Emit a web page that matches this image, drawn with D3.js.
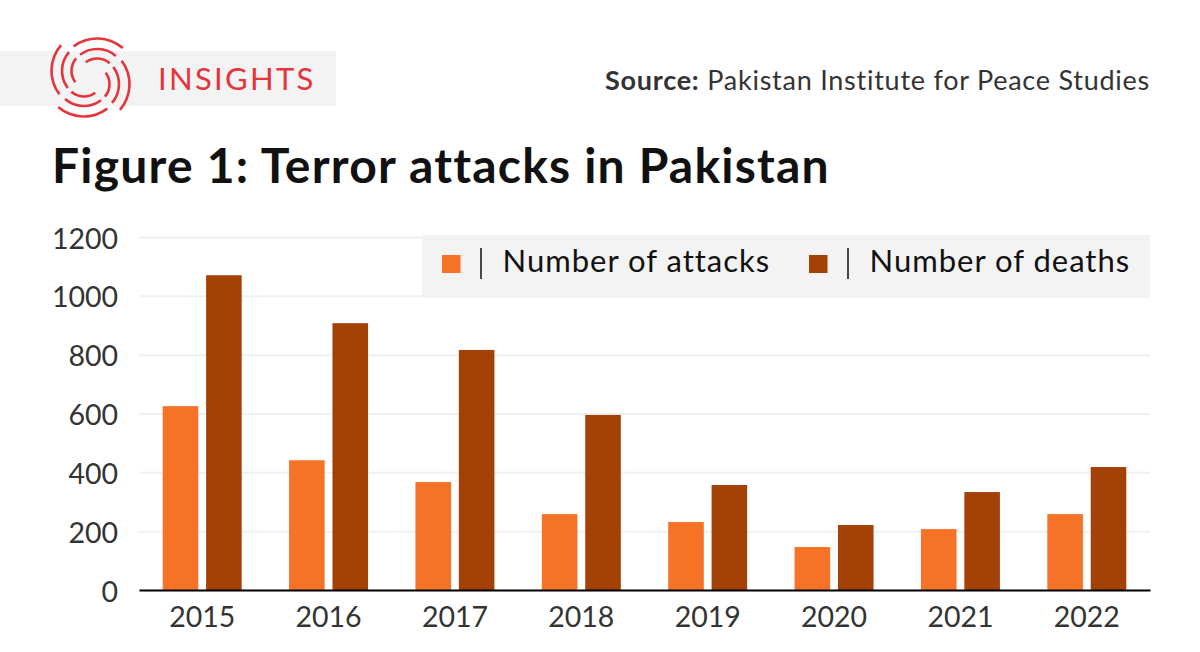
<!DOCTYPE html>
<html>
<head>
<meta charset="utf-8">
<script src="https://cdn.jsdelivr.net/npm/d3@7"></script>
<style>
  html, body { margin: 0; padding: 0; background: #fff; }
  svg { display: block; }
  text { font-family: Lato, "Open Sans", sans-serif; }
</style>
</head>
<body>
<div id="chart"></div>
<script>
var years = ["2015", "2016", "2017", "2018", "2019", "2020", "2021", "2022"];
var attacks = [625, 441, 367, 258, 231, 146, 207, 258];
var deaths = [1070, 907, 816, 595, 357, 221, 333, 418];
var seriesNames = ["Number of attacks", "Number of deaths"];
var seriesColors = ["#f57226", "#a44106"];
var yTicks = [0, 200, 400, 600, 800, 1000, 1200];

var w = 1200;
var h = 652;
var svg = d3.select("#chart").append("svg").attr("width", w).attr("height", h);

// header band and logo
svg.append("rect").attr("x", 0).attr("y", 51).attr("width", 336).attr("height", 55).attr("fill", "#f3f3f3");

var logoRed = "#e5343b";
var logo = svg.append("g").attr("transform", "translate(90.5,77.5)");
var rad = Math.PI / 180;
[0, 90, 180, 270].forEach(function (turn) {
	[39, 28.5, 19].forEach(function (r) {
		logo.append("path")
			.attr("d", d3.arc()({
				innerRadius: r - 1.3,
				outerRadius: r + 1.3,
				startAngle: (turn - 37) * rad,
				endAngle: (turn + 41) * rad
			}))
			.attr("transform", "rotate(" + turn + ") translate(6.7,0) rotate(" + (-turn) + ")")
			.attr("fill", logoRed);
	});
});

svg.append("text").attr("x", 158).attr("y", 90).attr("font-size", 31).attr("letter-spacing", 2.3)
	.attr("fill", logoRed).text("INSIGHTS");

var source = svg.append("text").attr("x", 1150).attr("y", 90).attr("text-anchor", "end")
	.attr("font-size", 27).attr("letter-spacing", 0.75).attr("fill", "#333");
source.append("tspan").attr("font-weight", 700).text("Source:");
source.append("tspan").text(" Pakistan Institute for Peace Studies");

svg.append("text").attr("x", 52).attr("y", 183).attr("font-size", 48).attr("font-weight", 700)
	.attr("letter-spacing", 1.2).attr("fill", "#111").text("Figure 1: Terror attacks in Pakistan");

// scales
var x = d3.scaleBand().domain(years).range([139, 1150]).paddingInner(0.375).paddingOuter(0.1875);
var xInner = d3.scaleBand().domain(seriesNames).range([0, x.bandwidth()]).paddingInner(0.18);
var y = d3.scaleLinear().domain([0, 1200]).range([590, 237]);

// gridlines + y labels
var yAxis = svg.append("g").attr("transform", "translate(139,0)")
	.call(d3.axisLeft(y).tickValues(yTicks).tickSize(-1011).tickPadding(21).tickFormat(d3.format("d")));
yAxis.select(".domain").remove();
yAxis.selectAll(".tick line").attr("stroke", "#f0f0f0").attr("stroke-width", 2);
yAxis.selectAll(".tick text").attr("font-size", 28.5).attr("dy", "0.39em").attr("fill", "#333");

// legend sits over the upper gridlines
svg.append("rect").attr("x", 422).attr("y", 235).attr("width", 728).attr("height", 63).attr("fill", "#f3f3f3");

var legendX = [442, 809];
seriesNames.forEach(function (name, i) {
	var g = svg.append("g").attr("transform", "translate(" + legendX[i] + ",0)");
	g.append("rect").attr("x", 0).attr("y", 255).attr("width", 18.5).attr("height", 18).attr("fill", seriesColors[i]);
	g.append("line").attr("x1", 39).attr("x2", 39).attr("y1", 248).attr("y2", 279).attr("stroke", "#111").attr("stroke-width", 1.5);
	g.append("text").attr("x", 60.5).attr("y", 272).attr("font-size", 31).attr("letter-spacing", 1).attr("fill", "#111").text(name);
});

// bars
var groups = svg.append("g").selectAll("g")
	.data(years)
	.enter()
	.append("g")
	.attr("transform", d => "translate(" + x(d) + ",0)");

[attacks, deaths].forEach(function (values, s) {
	groups.append("rect")
		.attr("x", xInner(seriesNames[s]))
		.attr("width", xInner.bandwidth())
		.attr("y", (d, i) => y(values[i]))
		.attr("height", (d, i) => y(0) - y(values[i]))
		.attr("fill", seriesColors[s]);
});

// x axis
var xAxis = svg.append("g").attr("transform", "translate(0,590)")
	.call(d3.axisBottom(x).tickSize(0).tickPadding(17));
xAxis.select(".domain").attr("stroke", "#000").attr("stroke-width", 2);
xAxis.selectAll(".tick text").attr("font-size", 28.5).attr("fill", "#333");
</script>
</body>
</html>
